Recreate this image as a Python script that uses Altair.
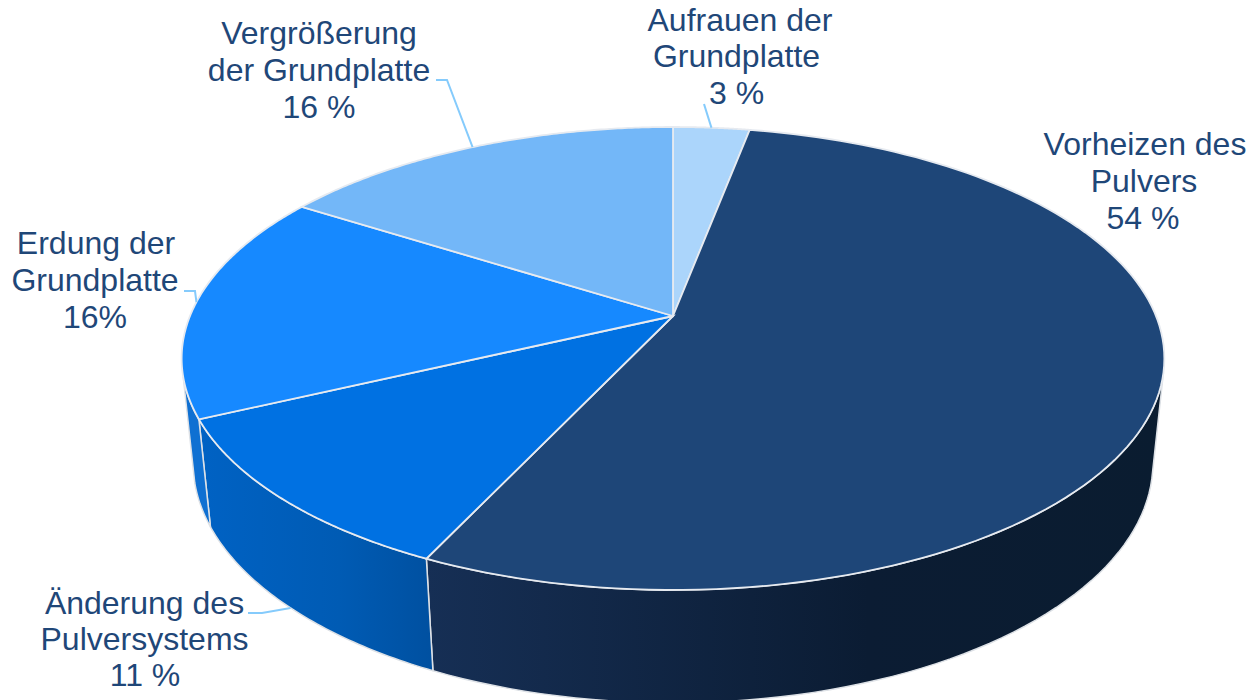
import numpy as np
import pandas as pd
import altair as alt

# --- values ---
categories = ["Aufrauen der Grundplatte", "Vorheizen des Pulvers", "Änderung des Pulversystems",
              "Erdung der Grundplatte", "Vergrößerung der Grundplatte"]
shares = [3, 54, 11, 16, 16]
top_colors = ["#ABD5FB", "#1E4678", "#0071E2", "#1689FF", "#73B7F8"]
label_lines = [["Aufrauen der", "Grundplatte", "3 %"],
               ["Vorheizen des", "Pulvers", "54 %"],
               ["Änderung des", "Pulversystems", "11 %"],
               ["Erdung der", "Grundplatte", "16%"],
               ["Vergrößerung", "der Grundplatte", "16 %"]]

# --- layout of the tilted disc (page pixels) ---
CX = 673.0
TOP = dict(yc=316.0, A=483.0, H=223.7, k=0.1836)
LOW = dict(yc=420.0, A=472.0, H=232.0, k=0.18)
T_RIGHT, T_LEFT = 104.0, 255.0
WIDTH, HEIGHT = 1238, 692
TEXT = "#1F4778"
LEADER = "#85CBFC"
label_centers = [[740, 736.5, 736.5], [1145, 1144, 1143], [144.5, 144.5, 145], [96, 95, 95], [319, 319, 319]]
label_baselines = [[31, 67, 104], [155, 192, 229], [614, 650, 686], [254, 291, 328], [44, 81, 118]]
leader_elbows = [[(704, 104)], [], [(248, 613), (262, 613)], [(184, 291), (195, 291)], [(436, 80), (447, 80)]]
leader_on_low = [False, False, True, False, False]


def project(t_deg, p):
    t = np.radians(t_deg)
    u, v = np.sin(t), np.cos(t)
    w = 1 + p["k"] * v
    return CX + p["A"] * u / w, p["yc"] - p["H"] * v / w


x_scale = alt.Scale(domain=[8, 8 + WIDTH], nice=False, zero=False)
y_scale = alt.Scale(domain=[8, 8 + HEIGHT], reverse=True, nice=False, zero=False)
X = alt.X("x:Q", scale=x_scale, axis=None)
Y = alt.Y("y:Q", scale=y_scale, axis=None)


def polygon(xs, ys, **mark):
    df = pd.DataFrame({"x": xs, "y": ys, "i": range(len(xs))})
    return alt.Chart(df).mark_line(interpolate="linear-closed", clip=True, **mark).encode(
        x=X, y=Y, order=alt.Order("i:Q"))


bounds = np.cumsum([0] + shares) * 3.6
layers = []


def wall(t0, t1, fill):
    ts = np.linspace(t0, t1, 60)
    xt, yt = project(ts, TOP)
    xb, yb = project(ts[::-1], LOW)
    return polygon(np.r_[xt, xb], np.r_[yt, yb], fill=fill, stroke="#DDE1E6", strokeWidth=1.5)


def grad(*stops):
    return alt.Gradient(gradient="linear", x1=0, x2=1, y1=0, y2=0,
                        stops=[alt.GradientStop(offset=o, color=c) for o, c in stops])


# side walls, one for each slice that faces the viewer
layers.append(wall(T_RIGHT, bounds[2], grad((0, "#162F55"), (0.6, "#0B1C33"), (1, "#0A1C30"))))
layers.append(wall(bounds[2], bounds[3], grad((0, "#0062C4"), (0.6, "#005BB4"), (1, "#0050A0"))))
layers.append(wall(bounds[3], T_LEFT, "#0F70D2"))

# top faces
for a, b, color in zip(bounds[:-1], bounds[1:], top_colors):
    ts = np.linspace(a, b, 120)
    xs, ys = project(ts, TOP)
    layers.append(polygon(np.r_[CX, xs], np.r_[TOP["yc"], ys], fill=color, stroke="#E6EAF0", strokeWidth=1.8))

# leader lines end at the middle of their slice's edge
mids = (bounds[:-1] + bounds[1:]) / 2
for mid, elbows, on_low in zip(mids, leader_elbows, leader_on_low):
    if not elbows:
        continue
    ax, ay = project(mid, LOW if on_low else TOP)
    pts = elbows + [(float(ax), float(ay))]
    df = pd.DataFrame({"x": [p[0] for p in pts], "y": [p[1] for p in pts], "i": range(len(pts))})
    layers.append(alt.Chart(df).mark_line(color=LEADER, strokeWidth=2).encode(
        x=X, y=Y, order=alt.Order("i:Q")))

# labels
rows = []
for lines, cs, bs in zip(label_lines, label_centers, label_baselines):
    for line, c, b in zip(lines, cs, bs):
        rows.append({"x": c, "y": b, "text": line})
layers.append(alt.Chart(pd.DataFrame(rows)).mark_text(
    font="Liberation Sans", fontSize=32, color=TEXT, align="center", baseline="alphabetic"
).encode(x=X, y=Y, text="text:N"))

chart = alt.layer(*layers).properties(
    width=WIDTH, height=HEIGHT, padding=0, autosize=alt.AutoSizeParams(type="none"),
    background="white"
).configure_view(stroke=None)

chart.save("out.html", embed_options={"renderer": "svg", "actions": False})
